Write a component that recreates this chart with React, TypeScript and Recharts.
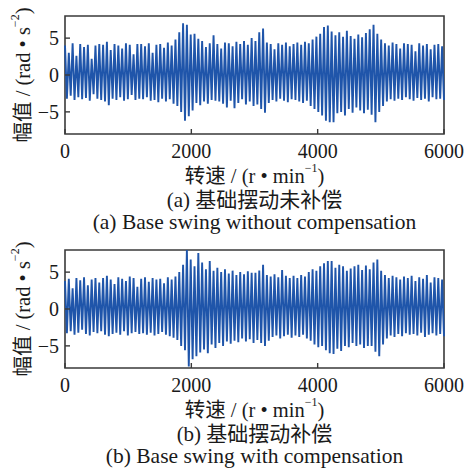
import React from "react"
import { LineChart, Line, XAxis, YAxis, ReferenceArea } from "recharts"

// speed axis (r/min) and amplitude axis (rad/s^2)
const X_TICKS = [0, 2000, 4000, 6000]
const Y_TICKS = [-5, 0, 5]
const SPEED_MAX = 6000
const AMP_MAX = 8

// (a) without compensation: positive and negative swings
const peaksA = [
  4.0, 3.0, 4.3, 2.6, 4.2, 3.8, 4.1, 2.2, 4.0, 4.2,
  4.1, 4.5, 3.4, 4.2, 4.0, 3.6, 4.3, 4.1, 2.8, 4.2,
  4.2, 3.9, 4.3, 3.0, 4.1, 4.2, 3.7, 4.4, 4.0, 4.8,
  5.8, 7.0, 6.8, 5.5, 5.6, 4.9, 4.6, 3.8, 4.3, 5.4,
  4.2, 3.6, 4.4, 4.3, 3.9, 4.5, 4.2, 4.6, 4.1, 5.0,
  4.6, 5.8, 6.3, 4.4, 4.2, 3.5, 4.3, 4.1, 4.4, 3.9,
  4.2, 4.4, 4.1, 4.5, 4.3, 4.8, 5.2, 5.6, 6.5, 6.7,
  5.9, 5.4, 5.8, 5.2, 6.0, 5.3, 4.9, 5.5, 5.1, 5.7,
  6.2, 6.8, 5.6, 4.8, 4.3, 4.0, 4.4, 4.2, 3.6, 4.3,
  4.2, 4.1, 3.2, 4.3, 4.0, 4.2, 3.5, 4.1, 4.2, 3.9,
]
const troughsA = [
  -3.2, -2.8, -3.4, -3.0, -3.3, -3.1, -3.5, -2.6, -3.2, -3.4,
  -3.6, -4.1, -3.2, -3.4, -3.0, -3.5, -3.3, -2.7, -3.4, -3.2,
  -3.3, -3.0, -3.5, -3.4, -3.7, -3.2, -3.6, -3.3, -3.9, -4.2,
  -5.0, -6.2, -5.6, -4.8, -3.8, -4.1, -3.6, -3.9, -3.4, -3.5,
  -3.6, -3.9, -4.4, -3.5, -4.5, -3.8, -3.3, -4.0, -3.6, -4.2,
  -4.0, -4.6, -5.1, -3.8, -3.4, -3.6, -3.2, -3.5, -3.7, -3.3,
  -3.4, -3.6, -3.8, -3.5, -4.2, -4.6, -5.0, -5.5, -6.2, -6.4,
  -6.4, -5.2, -5.0, -5.5, -4.6, -5.1, -4.4, -4.8, -5.2, -4.7,
  -5.4, -6.4, -5.0, -4.2, -3.6, -3.3, -3.5, -3.2, -3.4, -3.0,
  -3.3, -3.5, -3.1, -3.4, -3.2, -3.6, -3.0, -3.3, -3.2, -3.4,
]

// (b) with compensation
const peaksB = [
  3.8, 4.1, 2.8, 4.2, 3.9, 4.3, 3.2, 4.0, 4.2, 3.6,
  4.2, 4.5, 4.0, 3.4, 4.3, 4.1, 3.8, 4.4, 4.2, 3.0,
  4.1, 4.3, 3.7, 4.2, 4.0, 4.1, 3.5, 4.3, 4.0, 4.4,
  5.0, 6.0, 8.0, 6.7, 5.8, 7.6, 6.3, 5.4, 6.5, 5.2,
  5.6, 5.0, 5.4, 4.8, 5.2, 4.6, 5.0, 4.7, 5.1, 4.9,
  4.9, 5.2, 6.0, 4.6, 4.4, 4.7, 4.3, 5.3, 4.5, 4.2,
  4.5, 4.2, 4.6, 4.4, 5.0, 5.4, 5.2, 5.8, 6.2, 6.5,
  6.5, 5.6, 6.0, 5.8, 5.2, 5.5, 5.8, 6.0, 5.3, 5.9,
  5.4, 6.3, 6.7, 5.2, 4.6, 4.2, 4.5, 4.3, 4.0, 4.4,
  4.2, 4.5, 3.8, 4.3, 4.1, 4.6, 3.6, 4.3, 4.2, 4.0,
]
const troughsB = [
  -3.3, -3.0, -3.5, -3.2, -2.8, -3.4, -3.6, -3.1, -3.3, -3.0,
  -3.5, -3.7, -3.4, -3.2, -3.5, -3.0, -3.6, -3.3, -3.1, -3.4,
  -3.3, -3.5, -3.2, -3.6, -3.4, -3.1, -3.5, -3.7, -3.9, -4.2,
  -5.0, -5.6, -7.8, -6.8, -6.4, -5.9, -5.5, -6.0, -4.8, -5.3,
  -4.6, -5.0, -4.4, -4.7, -4.3, -4.5, -4.0, -4.4, -4.1, -4.6,
  -4.2, -4.6, -5.0, -4.3, -3.8, -3.6, -4.0, -3.7, -3.5, -3.9,
  -3.6, -3.8, -3.5, -4.0, -4.3, -4.8, -5.2, -5.0, -5.6, -6.0,
  -6.1, -5.4, -5.7, -5.0, -5.2, -4.6, -5.0, -4.8, -5.3, -5.0,
  -5.0, -5.8, -6.4, -4.8, -4.0, -3.6, -3.8, -3.4, -3.7, -3.3,
  -3.5, -3.4, -3.6, -3.2, -3.8, -3.5, -3.3, -3.6, -3.4, -3.7,
]

const LINE = "#1f55aa"
const FRAME = "#3a3a3a"
const TEXT = "#1a1a1a"
const SERIF = "'Liberation Serif', 'Times New Roman', 'Noto Sans CJK SC', serif"

// alternate swings, sampled evenly over the speed range
function buildSeries(peaks: number[], troughs: number[]) {
  const n = peaks.length * 2
  return peaks.flatMap((p, i) => [
    { speed: ((2 * i) * SPEED_MAX) / (n - 1), amp: p },
    { speed: ((2 * i + 1) * SPEED_MAX) / (n - 1), amp: troughs[i] },
  ])
}

const XTick = ({ x, y, payload }: any) => (
  <g>
    <line x1={x} y1={y} x2={x} y2={y - 5} stroke={FRAME} strokeWidth={1.4} />
    <text x={x} y={y + 17} textAnchor="middle" dominantBaseline="central" fontSize={20} fontFamily={SERIF} fill={TEXT}>
      {payload.value}
    </text>
  </g>
)

const YTick = ({ x, y, payload }: any) => (
  <g>
    <line x1={x} y1={y} x2={x + 5} y2={y} stroke={FRAME} strokeWidth={1.4} />
    <text x={x - 6} y={y} textAnchor="end" dominantBaseline="central" fontSize={20} fontFamily={SERIF} fill={TEXT}>
      {payload.value < 0 ? `\u2212${Math.abs(payload.value)}` : payload.value}
    </text>
  </g>
)

function XLabel({ viewBox, caption, captionEn }: any) {
  const cx = viewBox.x + viewBox.width / 2
  const y = viewBox.y
  return (
    <g fontFamily={SERIF} fill={TEXT} textAnchor="middle">
      <text x={cx} y={y + 42} dominantBaseline="central" fontSize={20.5}>
        转速 / (r • min<tspan fontSize={12} dy={-8}>−1</tspan><tspan dy={8}>)</tspan>
      </text>
      <text x={cx} y={y + 66} dominantBaseline="central" fontSize={21}>{caption}</text>
      <text x={cx} y={y + 88} dominantBaseline="central" fontSize={21.5}>{captionEn}</text>
    </g>
  )
}

function YLabel({ viewBox }: any) {
  const cx = 23
  const cy = viewBox.y + viewBox.height / 2
  return (
    <text
      x={cx}
      y={cy}
      transform={`rotate(-90 ${cx} ${cy})`}
      textAnchor="middle"
      dominantBaseline="central"
      fontSize={20.5}
      fontFamily={SERIF}
      fill={TEXT}
    >
      幅值 / (rad • s<tspan fontSize={12} dy={-8}>−2</tspan><tspan dy={8}>)</tspan>
    </text>
  )
}

function Panel({ data, top, height, marginTop, caption, captionEn }: any) {
  return (
    <div style={{ position: "absolute", left: 0, top }}>
      <LineChart width={474} height={height} data={data} margin={{ top: marginTop, right: 30, bottom: 0, left: 0 }}>
        <XAxis
          dataKey="speed"
          type="number"
          domain={[0, SPEED_MAX]}
          ticks={X_TICKS}
          tickLine={false}
          axisLine={false}
          tickSize={0}
          tickMargin={0}
          tick={<XTick />}
          height={height - marginTop - 118}
          label={{ content: (p: any) => <XLabel {...p} caption={caption} captionEn={captionEn} /> }}
        />
        <YAxis
          type="number"
          domain={[-AMP_MAX, AMP_MAX]}
          ticks={Y_TICKS}
          tickLine={false}
          axisLine={false}
          tickSize={0}
          tickMargin={0}
          tick={<YTick />}
          width={65}
          label={{ content: (p: any) => <YLabel {...p} /> }}
        />
        <Line type="linear" dataKey="amp" stroke={LINE} strokeWidth={1.9} dot={false} isAnimationActive={false} />
        <ReferenceArea
          x1={0}
          x2={SPEED_MAX}
          y1={-AMP_MAX}
          y2={AMP_MAX}
          fill="none"
          fillOpacity={0}
          stroke={FRAME}
          strokeWidth={1.6}
          ifOverflow="visible"
        />
      </LineChart>
    </div>
  )
}

export default function App() {
  const dataA = buildSeries(peaksA, troughsA)
  const dataB = buildSeries(peaksB, troughsB)
  return (
    <div style={{ position: "absolute", left: 0, top: 0, width: 474, height: 471, background: "#fff" }}>
      <Panel data={dataA} top={0} height={235} marginTop={16} caption="(a) 基础摆动未补偿" captionEn="(a) Base swing without compensation" />
      <Panel data={dataB} top={235} height={236} marginTop={15} caption="(b) 基础摆动补偿" captionEn="(b) Base swing with compensation" />
    </div>
  )
}
